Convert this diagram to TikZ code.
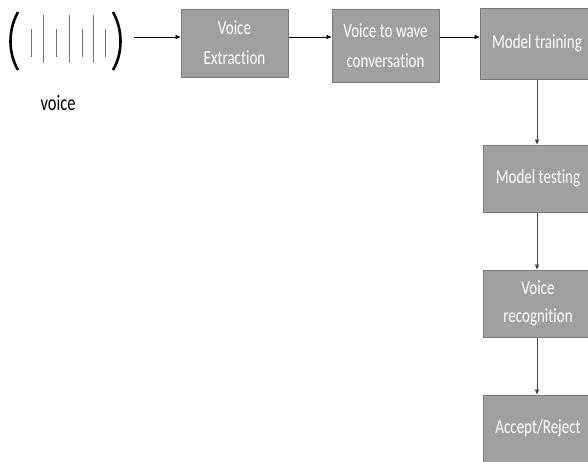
\documentclass[tikz,border=0pt]{standalone}
\usepackage{fontspec}
\newfontfamily\cf[FakeStretch=0.75,Ligatures={NoCommon}]{Carlito}
\usetikzlibrary{arrows.meta}
\definecolor{boxfill}{HTML}{A0A0A0}
\definecolor{boxline}{HTML}{7A7A7A}
\begin{document}
\begin{tikzpicture}[x=1pt,y=-1pt,
  procbox/.style={draw=boxline,fill=boxfill,line width=1pt,text=white,align=center,
    inner sep=0pt,font=\cf\fontsize{20}{30}\selectfont},
  flow/.style={-{Triangle[length=5pt,width=4pt]},line width=0.8pt},
  vflow/.style={-{Triangle[length=5pt,width=4pt]},line width=0.8pt,draw=black!75,color=black!75}]
\useasboundingbox (0,0) rectangle (588,461);
\clip (0,0) rectangle (588,461);
% wave symbol
\draw[line width=2.6pt] (18,12) .. controls (8,30) and (8,53) .. (18,70);
\draw[line width=2.6pt] (113,12) .. controls (123,30) and (123,53) .. (113,70);
\foreach \xx in {31,56,82,105} \draw[line width=0.7pt,black!55] (\xx,29) -- (\xx,57);
\foreach \xx in {43,69,93} \draw[line width=0.7pt,black!55] (\xx,15) -- (\xx,63);
\node[font=\cf\fontsize{22}{24}\selectfont] (vlabel) at (58,103) {voice};
\coordinate (wv) at (134,37);
% boxes
\node[procbox,minimum width=107pt,minimum height=68pt] (ve) at (234.5,43) {Voice\\Extraction};
\node[procbox,minimum width=107pt,minimum height=73pt] (vw) at (385.5,45.5) {Voice to wave\\conversation};
\node[procbox,minimum width=114pt,minimum height=71pt] (mt) at (537,43.5) {Model training};
\node[procbox,minimum width=110pt,minimum height=67pt] (mtest) at (538,178.5) {Model testing};
\node[procbox,minimum width=110pt,minimum height=67pt,font=\cf\fontsize{20}{28}\selectfont] (vr) at (538,303.5) {Voice\\recognition};
\node[procbox,minimum width=110pt,minimum height=67pt] (ar) at (538,428.5) {Accept/Reject};
% connectors
\draw[flow] (wv) -- (wv -| ve.west);
\draw[flow] (ve.east |- wv) -- (vw.west |- wv);
\draw[flow] (vw.east |- wv) -- (mt.west |- wv);
\coordinate (vx) at (537,0);
\draw[vflow] (vx |- mt.south) -- (vx |- mtest.north);
\draw[vflow] (vx |- mtest.south) -- (vx |- vr.north);
\draw[vflow] (vx |- vr.south) -- (vx |- ar.north);
\end{tikzpicture}
\end{document}
